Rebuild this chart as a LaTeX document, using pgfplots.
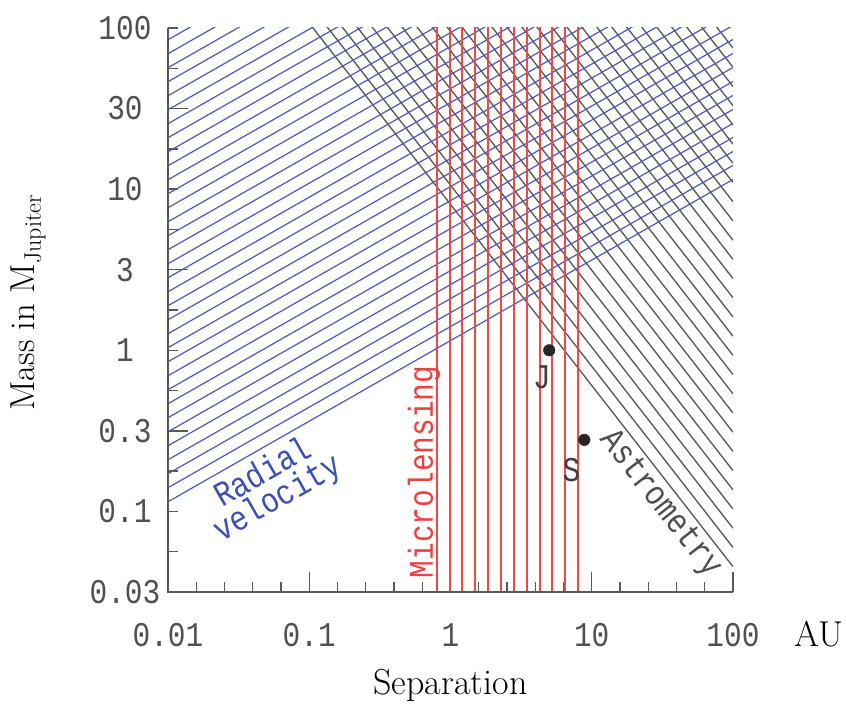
\documentclass[border=0pt]{standalone}
\usepackage{fontspec}
\usepackage{pgfplots}
\usepackage{pgfplotstable}
\pgfplotsset{compat=1.18}

% thin typewriter-like face for the plot annotations and tick numbers
\newfontfamily\hersh{Liberation Mono}[FakeStretch=0.85]

\definecolor{rvblue}{RGB}{72,90,186}
\definecolor{rvtext}{RGB}{60,80,180}
\definecolor{astgray}{RGB}{88,88,88}
\definecolor{mlred}{RGB}{240,72,72}
\definecolor{mltext}{RGB}{235,65,65}
\definecolor{axisgray}{RGB}{90,90,90}
\definecolor{labgray}{RGB}{80,80,80}

% Radial velocity limits: M ~ a^(1/2), one segment per hatch line
\pgfplotstableread{
x y
0.01 0.1148
100 11.48
nan nan
0.01 0.1403
100 14.03
nan nan
0.01 0.1713
100 17.13
nan nan
0.01 0.2092
100 20.92
nan nan
0.01 0.2556
100 25.56
nan nan
0.01 0.3122
100 31.22
nan nan
0.01 0.3814
100 38.14
nan nan
0.01 0.4658
100 46.58
nan nan
0.01 0.5689
100 56.89
nan nan
0.01 0.6949
100 69.49
nan nan
0.01 0.8487
100 84.87
nan nan
0.01 1.0368
100 103.68
nan nan
0.01 1.2665
100 126.65
nan nan
0.01 1.5467
100 154.67
nan nan
0.01 1.8893
100 188.93
nan nan
0.01 2.3077
100 230.77
nan nan
0.01 2.8191
100 281.91
nan nan
0.01 3.4435
100 344.35
nan nan
0.01 4.2054
100 420.54
nan nan
0.01 5.1369
100 513.69
nan nan
0.01 6.2746
100 627.46
nan nan
0.01 7.6646
100 766.46
nan nan
0.01 9.3625
100 936.25
nan nan
0.01 11.434
100 1143.4
nan nan
0.01 13.967
100 1396.7
nan nan
0.01 17.061
100 1706.1
nan nan
0.01 20.841
100 2084.1
nan nan
0.01 25.457
100 2545.7
nan nan
0.01 31.090
100 3109.0
nan nan
0.01 37.977
100 3797.7
nan nan
0.01 46.389
100 4638.9
nan nan
0.01 56.664
100 5666.4
nan nan
0.01 69.219
100 6921.9
nan nan
0.01 84.52
100 8452
}\rvlines

% Astrometry limits: steep falling lines toward large separations
\pgfplotstableread{
x y
0.1 107.1
100 0.04541
nan nan
0.1 140.9
100 0.05976
nan nan
0.1 185.4
100 0.07863
nan nan
0.1 244.0
100 0.10347
nan nan
0.1 321.1
100 0.13614
nan nan
0.1 422.5
100 0.17915
nan nan
0.1 555.9
100 0.23573
nan nan
0.1 731.5
100 0.31017
nan nan
0.1 962.5
100 0.40815
nan nan
0.1 1266.5
100 0.53703
nan nan
0.1 1666.5
100 0.70666
nan nan
0.1 2192.9
100 0.92990
nan nan
0.1 2885.4
100 1.22349
nan nan
0.1 3796.7
100 1.60993
nan nan
0.1 4995.6
100 2.11836
nan nan
0.1 6573.7
100 2.78740
nan nan
0.1 8650.2
100 3.66766
nan nan
0.1 11382
100 4.82609
nan nan
0.1 14976
100 6.35035
nan nan
0.1 19707
100 8.35603
nan nan
0.1 25930
100 10.995
nan nan
0.1 34120
100 14.468
nan nan
0.1 44895
100 19.036
nan nan
0.1 59076
100 25.051
nan nan
0.1 77733
100 32.961
nan nan
0.1 102282
100 43.372
nan nan
0.1 134590
100 57.069
nan nan
0.1 177090
100 75.094
}\astlines

% Microlensing band: vertical lines from 0.8 to 8 AU
\pgfplotstableread{
x y
0.8 0.01
0.8 1000
nan nan
0.9863 0.01
0.9863 1000
nan nan
1.2160 0.01
1.2160 1000
nan nan
1.4992 0.01
1.4992 1000
nan nan
1.8482 0.01
1.8482 1000
nan nan
2.2786 0.01
2.2786 1000
nan nan
2.8093 0.01
2.8093 1000
nan nan
3.4634 0.01
3.4634 1000
nan nan
4.2700 0.01
4.2700 1000
nan nan
5.2642 0.01
5.2642 1000
nan nan
6.4900 0.01
6.4900 1000
nan nan
8.0 0.01
8.0 1000
}\mllines

% Jupiter and Saturn
\pgfplotstableread{
x y
5.0 1.0
8.86 0.278
}\planets

\begin{document}
\begin{tikzpicture}
\useasboundingbox (-126pt,-85.5pt) rectangle (508.5pt,444pt);
\begin{axis}[
  at={(0pt,0pt)}, anchor=south west,
  scale only axis, width=423.75pt, height=423pt,
  xmode=log, ymode=log,
  xmin=0.01, xmax=100, ymin=0.0316228, ymax=100,
  axis line style={draw=none},
  xtick pos=bottom, ytick pos=left,
  tick align=inside,
  every tick/.style={draw=axisgray, line width=1pt},
  major tick length=15pt, minor tick length=7.5pt,
  xtick={0.01,0.1,1,10,100},
  xticklabels={0.01,0.1,1,10,100},
  minor xtick={0.015849,0.025119,0.039811,0.063096,
               0.15849,0.25119,0.39811,0.63096,
               1.5849,2.5119,3.9811,6.3096,
               15.849,25.119,39.811,63.096},
  ytick={0.0316228,0.316228,3.16228,31.6228},
  yticklabels={0.03,0.3,3,30},
  extra y ticks={0.1,1,10,100},
  extra y tick labels={0.1,1,10,100},
  extra y tick style={major tick length=7.5pt},
  minor ytick={0.056234,0.17783,0.56234,1.7783,5.6234,17.783,56.234},
  /pgf/number format/assume math mode=true,
  tick label style={font=\hersh\fontsize{26}{26}\selectfont, text=labgray},
  xticklabel style={anchor=center, yshift=-32.25pt},
  yticklabel style={anchor=center, xshift=-32.25pt},
  clip mode=individual,
  unbounded coords=jump,
]
\addplot[astgray, line width=1.0pt] table {\astlines};
\addplot[rvblue, line width=0.9pt] table {\rvlines};
\addplot[mlred, line width=1.5pt] table {\mllines};
\addplot[only marks, mark=*, mark size=4.3pt, draw=black!85, fill=black!85] table {\planets};

% left and bottom axis lines only
\draw[axisgray, line width=1pt] (rel axis cs:0,1) -- (rel axis cs:0,0) -- (rel axis cs:1,0);

\node[font=\hersh\fontsize{26}{26}\selectfont, text=black!75] at (rel axis cs:0.6619,0.3812) {J};
\node[font=\hersh\fontsize{26}{26}\selectfont, text=black!75] at (rel axis cs:0.7142,0.2163) {S};
\node[font=\hersh\fontsize{26}{26}\selectfont, text=mltext, rotate=90, anchor=base]
  at (rel axis cs:0.469,0.2128) {Microlensing};
\node[font=\hersh\fontsize{26}{22}\selectfont, text=rvtext, rotate=29.7, align=center]
  at (rel axis cs:0.1823,0.1871) {Radial\\velocity};
\node[font=\hersh\fontsize{26}{26}\selectfont, text=astgray!90!black, rotate=-52]
  at (rel axis cs:0.8708,0.156) {Astrometry};

\node[font=\fontsize{27}{32}\selectfont, anchor=base] at (rel axis cs:0.5,-0.1826) {Separation};
\node[font=\fontsize{27}{32}\selectfont, anchor=base] at (rel axis cs:1.1522,-0.097) {AU};
\node[font=\fontsize{26}{30}\selectfont, rotate=90, anchor=base]
  at (rel axis cs:-0.2354,0.5124) {Mass in M\raisebox{-4.5pt}{\fontsize{18}{18}\selectfont Jupiter}};
\end{axis}
\end{tikzpicture}
\end{document}
